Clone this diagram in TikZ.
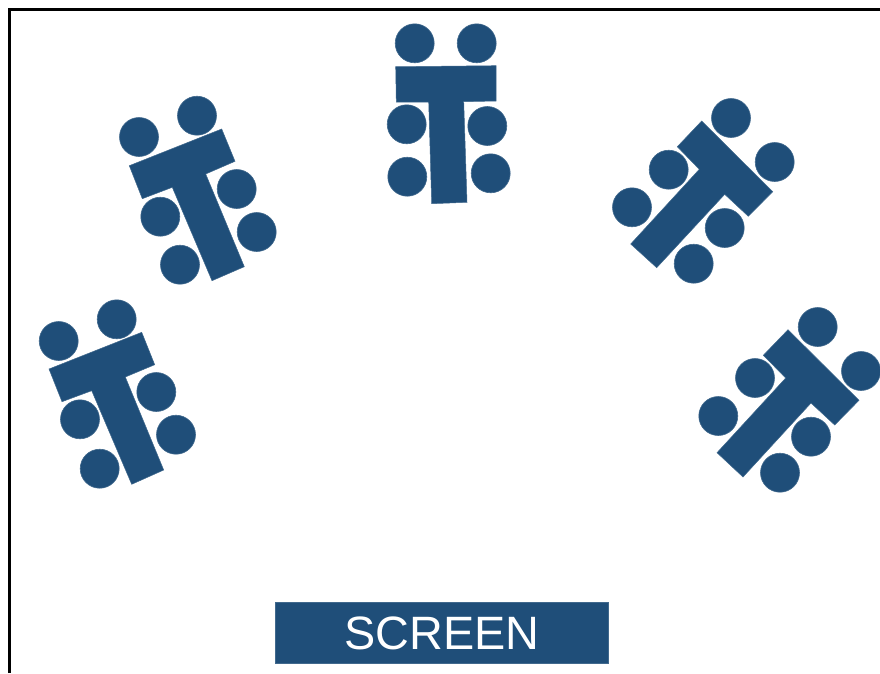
\documentclass[tikz,border=0pt]{standalone}
\usepackage{fontspec}
\setmainfont{Liberation Sans}
\usepackage{xcolor}
\definecolor{tableblue}{HTML}{1F4E79}
\usetikzlibrary{positioning}

\begin{document}
\begin{tikzpicture}[
    x=1pt, y=-1pt,
    seat/.style={circle, fill=tableblue, draw=tableblue!85, line width=0.6pt, inner sep=0pt, minimum size=39pt},
    desk/.style={fill=tableblue, draw=tableblue!85, line width=0.5pt},
    screen/.style={rectangle, fill=tableblue, draw=tableblue!85, line width=0.6pt, minimum width=333pt, minimum height=61.5pt, inner sep=0pt, text=white, font=\fontsize{46.8}{50}\selectfont},
    frame/.style={line width=3pt}
]
\useasboundingbox (0,0) rectangle (880,673);

% Room walls, open on the right and at the bottom
\draw[frame] (9.5,673) -- (9.5,9.5) -- (880,9.5);

% Upper left table
\fill[desk] (129.3,165.7) -- (221.7,129) -- (235,161.3) -- (205.7,174) -- (244.3,266.7) -- (212,280.7) -- (172.3,187.3) -- (142.3,198.7) -- cycle;
\node[seat] (ulA) at (139,137) {};
\node[seat] (ulB) at (197,115.7) {};
\node[seat] (ulC) at (236.7,189) {};
\node[seat] (ulD) at (160.3,216.7) {};
\node[seat] (ulE) at (256.7,232) {};
\node[seat] (ulF) at (180,264.7) {};

% Lower left table
\fill[desk] (49,369) -- (141.7,332.3) -- (154.7,364.7) -- (125.3,377) -- (163.7,470) -- (131.7,484.3) -- (91.7,390.7) -- (62,401.7) -- cycle;
\node[seat] (llA) at (58.7,341) {};
\node[seat] (llB) at (116.7,319.3) {};
\node[seat] (llC) at (156.3,392) {};
\node[seat] (llD) at (80,419.3) {};
\node[seat] (llE) at (176,434.7) {};
\node[seat] (llF) at (99.7,468.7) {};

% Top table
\fill[desk] (395.7,66.7) -- (496,65.7) -- (496,101) -- (463.7,101.7) -- (467,202.3) -- (431.7,203.7) -- (428.7,102) -- (396.3,102) -- cycle;
\node[seat] (topA) at (414.7,43.3) {};
\node[seat] (topB) at (476.7,43.3) {};
\node[seat] (topC) at (406.7,124.3) {};
\node[seat] (topD) at (487.3,126) {};
\node[seat] (topE) at (407.3,176.7) {};
\node[seat] (topF) at (490.7,173.3) {};

% Upper right table
\fill[desk] (701.7,121) -- (772.7,191.7) -- (748.3,216.3) -- (724.7,194.3) -- (656.7,267.7) -- (630.7,244) -- (699.3,169.3) -- (677.3,146.7) -- cycle;
\node[seat] (urA) at (731,118) {};
\node[seat] (urB) at (774.7,162) {};
\node[seat] (urC) at (668.7,169.7) {};
\node[seat] (urD) at (632,207.3) {};
\node[seat] (urE) at (724.7,228) {};
\node[seat] (urF) at (693.7,263.7) {};

% Lower right table
\fill[desk] (788,329.7) -- (859,400.3) -- (834.7,425) -- (811,403) -- (743,477) -- (717,452.7) -- (785.7,378) -- (763.3,355.3) -- cycle;
\node[seat] (lrA) at (817.7,327) {};
\node[seat] (lrB) at (861,371) {};
\node[seat] (lrC) at (755,378) {};
\node[seat] (lrD) at (718.3,416) {};
\node[seat] (lrE) at (811,436.7) {};
\node[seat] (lrF) at (780,472.7) {};

% Screen
\node[screen] (screen) at (441.8,633) {SCREEN};

\end{tikzpicture}
\end{document}
